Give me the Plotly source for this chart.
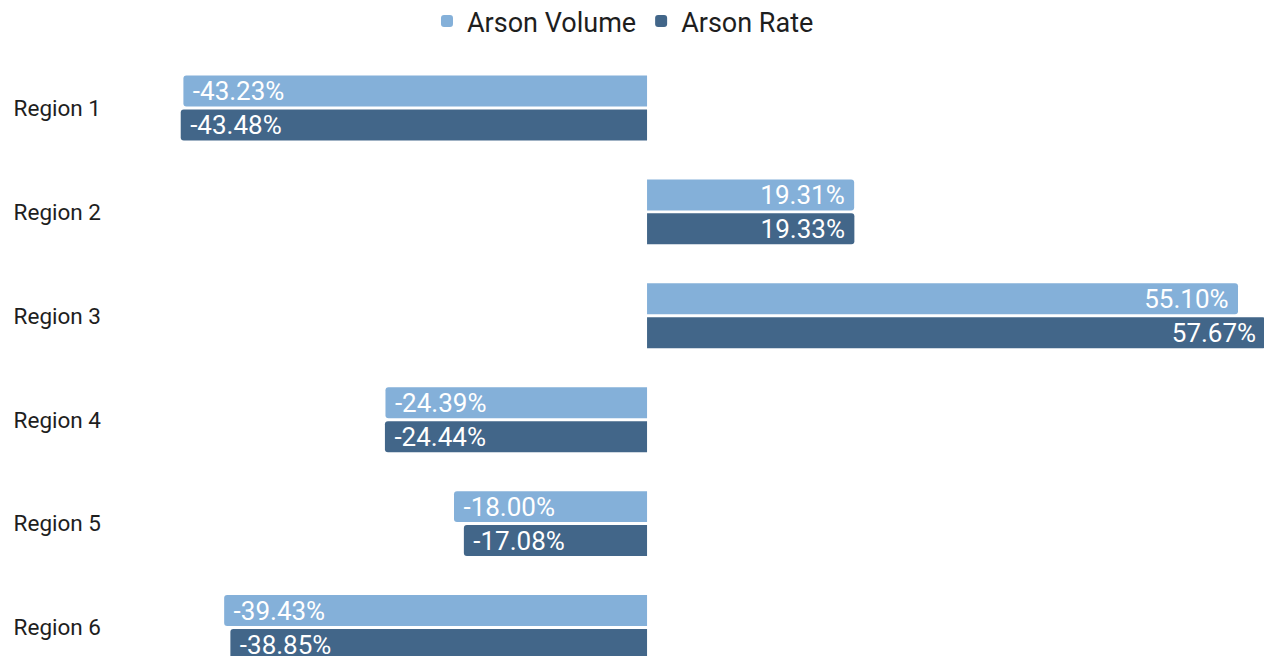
import plotly.graph_objects as go

regions = ["Region 1", "Region 2", "Region 3", "Region 4", "Region 5", "Region 6"]
arson_volume = [-43.23, 19.31, 55.10, -24.39, -18.00, -39.43]
arson_rate = [-43.48, 19.33, 57.67, -24.44, -17.08, -38.85]

series_names = ["Arson Volume", "Arson Rate"]
series_colors = ["#84b0d9", "#426689"]

NBSP = "\u00a0"


def labels(vals):
    return [(NBSP + f"{v:.2f}%") if v < 0 else (f"{v:.2f}%" + NBSP) for v in vals]


fig = go.Figure()
for name, vals, col in zip(series_names, [arson_volume, arson_rate], series_colors):
    fig.add_trace(go.Bar(
        y=regions, x=vals, orientation="h", name=name,
        marker=dict(color=col, line=dict(width=0)),
        text=labels(vals), textposition="inside", insidetextanchor="end",
        constraintext="none",
        textfont=dict(family="Roboto", size=26, color="white"),
        hoverinfo="skip",
    ))

fig.update_layout(
    width=1264, height=648,
    margin=dict(l=94, r=6, t=47.5, b=0, autoexpand=False),
    paper_bgcolor="white", plot_bgcolor="white",
    barmode="group", bargap=0.346, bargroupgap=0.088, barcornerradius=3,
    font=dict(family="Roboto", color="#1e1e1e"),
    showlegend=True,
    legend=dict(orientation="h", x=0.2792, xanchor="left", y=1.0575, yanchor="middle",
                font=dict(family="Roboto", size=27, color="#1e1e1e"),
                itemclick=False),
    xaxis=dict(range=[-50.82, 57.71], showgrid=False, zeroline=False,
               showticklabels=False, ticks=""),
    yaxis=dict(range=[5.274, -0.5], showgrid=False, zeroline=False, ticks="",
               tickfont=dict(family="Roboto", size=22.5, color="#1e1e1e")),
)

fig.write_html("out.html")
